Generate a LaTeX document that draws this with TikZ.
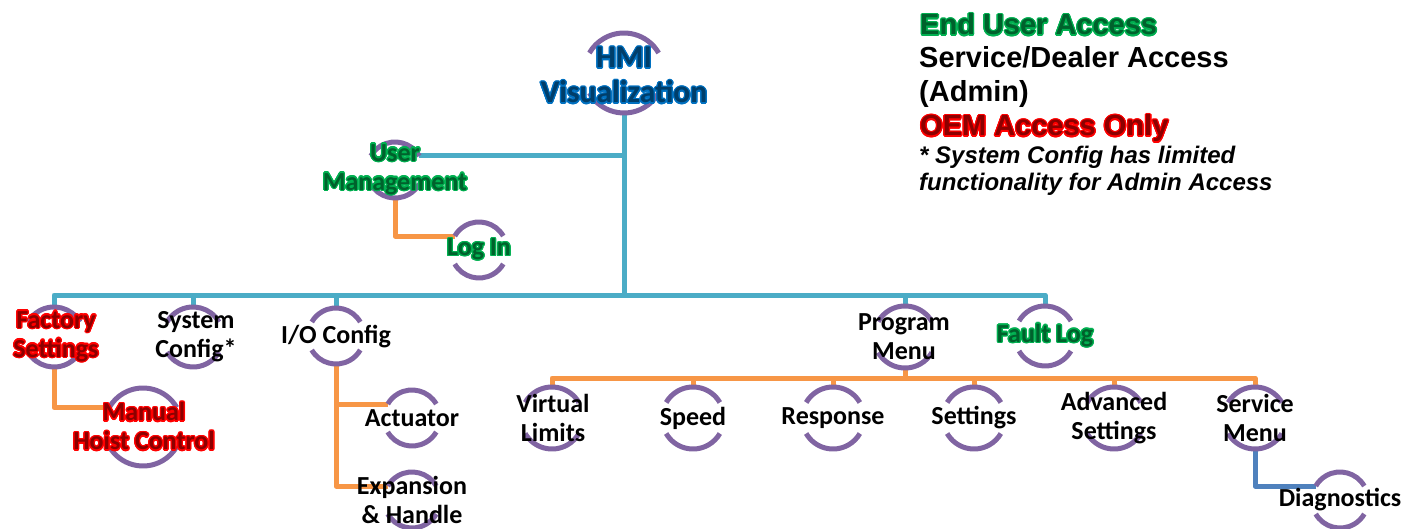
\documentclass[tikz,border=0pt]{standalone}
\usepackage{fontspec}
\setmainfont{Carlito}
\newfontfamily\arialfont{Liberation Sans}
\usepackage{xcolor}
\usepackage{contour}
\contourlength{1.3pt}
\usetikzlibrary{positioning}

\definecolor{ringpurple}{RGB}{128,100,162}
\definecolor{busteal}{RGB}{75,172,198}
\definecolor{suborange}{RGB}{247,150,70}
\definecolor{diagblue}{RGB}{79,129,189}
\definecolor{endgreen}{RGB}{0,176,80}
\definecolor{oemred}{RGB}{255,0,0}
\definecolor{hmiblue}{RGB}{0,112,192}

\newcommand\glow[2]{\textcolor{#1!55!black}{\contour{#1}{#2}}}

\begin{document}
\begin{tikzpicture}[x=1pt, y=-1pt,
    ring/.style={circle, minimum size={2*#1pt}, inner sep=0pt, outer sep=0pt},
    arcline/.style={draw=ringpurple, line width=5pt},
    tealline/.style={draw=busteal, line width=5pt, line join=round},
    orangeline/.style={draw=suborange, line width=5pt, line join=round},
    blueline/.style={draw=diagblue, line width=5pt, line join=round},
    lbl/.style={font=\bfseries\fontsize{26}{29}\selectfont, align=center, inner sep=0pt},
    legend/.style={font=\arialfont\bfseries\fontsize{29}{33}\selectfont, anchor=base west, inner sep=0pt},
    note/.style={font=\arialfont\bfseries\itshape\fontsize{24}{27}\selectfont, anchor=base west, inner sep=0pt}]
    \useasboundingbox (0,0) rectangle (1418,529);

    % circles
    \node[ring=40] (hmi) at (624,73) {};
    \node[ring=28] (user) at (395,170) {};
    \node[ring=28] (login) at (479,250) {};
    \node[ring=30] (factory) at (54,337) {};
    \node[ring=30] (system) at (193,337) {};
    \node[ring=28] (io) at (336,336) {};
    \node[ring=31] (program) at (905,337) {};
    \node[ring=30] (fault) at (1045,336) {};
    \node[ring=39] (manual) at (143,427) {};
    \node[ring=28] (actuator) at (412,418) {};
    \node[ring=28] (expansion) at (412,500) {};
    \node[ring=31] (virtual) at (552,418) {};
    \node[ring=31] (speed) at (693,418) {};
    \node[ring=31] (response) at (833,418) {};
    \node[ring=31] (settings) at (974,418) {};
    \node[ring=31] (advanced) at (1114,418) {};
    \node[ring=31] (service) at (1255,418) {};
    \node[ring=28] (diag) at (1340,500) {};
    \coordinate (busy) at (624,295);
    \coordinate (pbus) at (905,378);

    % connectors
    \draw[tealline] (hmi.south) -- (busy);
    \draw[tealline] (user.30) -- (user.30 -| hmi.south);
    \draw[tealline] (factory.north) |- (busy) -| (fault.north);
    \foreach \n in {system,io,program}
        \draw[tealline] (\n.north) -- (\n.north |- busy);
    \draw[orangeline] (user.south) |- (login.150);
    \draw[orangeline] (factory.south) |- (manual.150);
    \draw[orangeline] (io.south) |- (actuator.150);
    \draw[orangeline] (io.south) |- (expansion.150);
    \draw[orangeline] (program.south) -- (pbus);
    \draw[orangeline] (virtual.north) |- (pbus) -| (service.north);
    \foreach \n in {speed,response,settings,advanced}
        \draw[orangeline] (\n.north) -- (\n.north |- pbus);
    \draw[blueline] (service.south) |- (diag.150);

    \foreach \n/\r in {hmi/40,user/28,login/28,factory/30,system/30,io/28,program/31,fault/30,
        manual/39,actuator/28,expansion/28,virtual/31,speed/31,response/31,settings/31,
        advanced/31,service/31,diag/28}
        \draw[arcline] ([shift={(30:\r pt)}]\n.center) arc[start angle=30, end angle=150, radius=\r pt]
                       ([shift={(210:\r pt)}]\n.center) arc[start angle=210, end angle=330, radius=\r pt];

    % labels
    \node[lbl, font=\bfseries\fontsize{31.5}{35}\selectfont] (hmi-t) at (624,76) {\glow{hmiblue}{HMI}\\\glow{hmiblue}{Visualization}};
    \node[lbl] (user-t) at (395,170) {\glow{endgreen}{User}\\\glow{endgreen}{Management}};
    \node[lbl] (login-t) at (login) {\glow{endgreen}{Log In}};
    \node[lbl] (factory-t) at (56,337) {\glow{oemred}{Factory}\\\glow{oemred}{Settings}};
    \node[lbl] (system-t) at (196,337) {System\\Config*};
    \node[lbl] (io-t) at (336,337) {I/O Config};
    \node[lbl] (program-t) at (904,337) {Program\\Menu};
    \node[lbl] (fault-t) at (fault) {\glow{endgreen}{Fault Log}};
    \node[lbl] (manual-t) at (144,427) {\glow{oemred}{Manual}\\\glow{oemred}{Hoist Control}};
    \node[lbl] (actuator-t) at (actuator) {Actuator};
    \node[lbl] (expansion-t) at (412,500) {Expansion\\\& Handle};
    \node[lbl] (virtual-t) at (553,418) {Virtual\\Limits};
    \node[lbl] (speed-t) at (speed) {Speed};
    \node[lbl] (response-t) at (response) {Response};
    \node[lbl] (settings-t) at (settings) {Settings};
    \node[lbl] (advanced-t) at (advanced) {Advanced\\Settings};
    \node[lbl] (service-t) at (service) {Service\\Menu};
    \node[lbl] (diag-t) at (diag) {Diagnostics};

    % access legend
    \node[legend] (leg-end) at (920,35) {\glow{endgreen}{End User Access}};
    \node[legend] (leg-dealer) at (919,68) {Service/Dealer Access};
    \node[legend] (leg-admin) at (919,102) {(Admin)};
    \node[legend] (leg-oem) at (920,136) {\glow{oemred}{OEM Access Only}};
    \node[note] (leg-note) at (919,164) {* System Config has limited};
    \node[note] (leg-note2) at (919,191) {functionality for Admin Access};
\end{tikzpicture}
\end{document}
